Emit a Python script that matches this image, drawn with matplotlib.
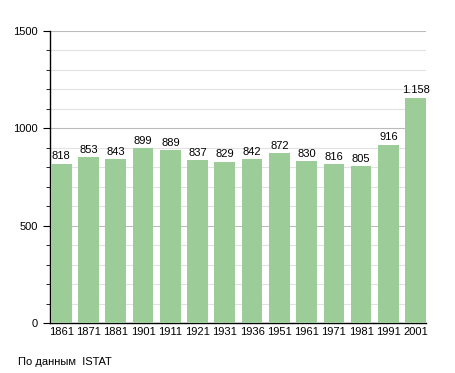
import matplotlib
matplotlib.use("Agg")
import matplotlib.pyplot as plt
from matplotlib.ticker import MultipleLocator

years = ["1861", "1871", "1881", "1901", "1911", "1921", "1931", "1936", "1951", "1961", "1971", "1981", "1991", "2001"]
population = [818, 853, 843, 899, 889, 837, 829, 842, 872, 830, 816, 805, 916, 1158]
labels = ["818", "853", "843", "899", "889", "837", "829", "842", "872", "830", "816", "805", "916", "1.158"]

plt.rcParams['font.family'] = ['Liberation Sans', 'DejaVu Sans']

fig = plt.figure(figsize=(4.55, 3.73), dpi=100)
ax = fig.add_axes([50/455, 50/373, 376/455, 292/373])

x = list(range(len(years)))
ax.bar(x, population, width=0.76, color='#9ccd98', zorder=3)
for xi, v, lab in zip(x, population, labels):
    ax.text(xi, v + 12, lab, ha='center', va='bottom', fontsize=8, color='black', zorder=4)

ax.set_xlim(-0.415, len(years) - 1 + 0.38)
ax.set_ylim(0, 1500)
ax.set_xticks(x)
ax.set_xticklabels(years, fontsize=8)
ax.yaxis.set_major_locator(MultipleLocator(500))
ax.yaxis.set_minor_locator(MultipleLocator(100))
ax.tick_params(axis='y', which='major', length=5, labelsize=8)
ax.tick_params(axis='y', which='minor', length=3)
ax.tick_params(axis='x', length=0, pad=3)
ax.grid(axis='y', which='major', color='#bbbbbb', linewidth=0.8, zorder=0)
ax.grid(axis='y', which='minor', color='#e2e2e2', linewidth=0.8, zorder=0)
for s in ['top', 'right']:
    ax.spines[s].set_visible(False)
ax.spines['left'].set_linewidth(1)
ax.spines['bottom'].set_linewidth(1)

fig.text(18/455, 1 - 362/373, "По данным  ISTAT", fontsize=8, va='center', ha='left')

fig.savefig("out.png", dpi=100)
